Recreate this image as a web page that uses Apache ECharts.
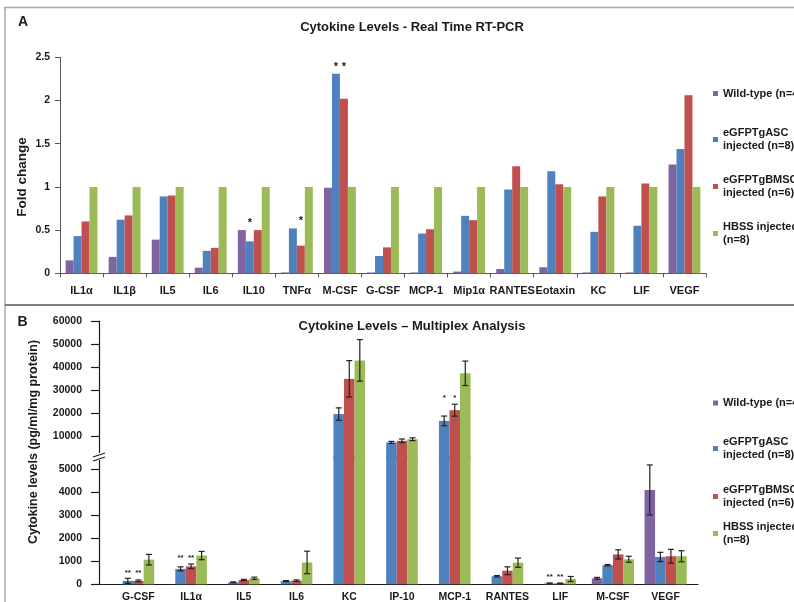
<!DOCTYPE html>
<html><head><meta charset="utf-8">
<script src="https://cdn.jsdelivr.net/npm/echarts@6/dist/echarts.min.js"></script>
<style>html,body{margin:0;padding:0;background:#fff}#c{width:794px;height:602px}</style>
</head><body><div id="c"></div>
<script>
// ---------- Panel A data (fold change, real time RT-PCR) ----------
const catA = ['IL1α','IL1β','IL5','IL6','IL10','TNFα','M-CSF','G-CSF','MCP-1','Mip1α','RANTES','Eotaxin','KC','LIF','VEGF'];
const wtA   = [0.15,0.19,0.39,0.065,0.50,0.01,0.99,0.01,0.01,0.02,0.05,0.07,0.01,0.01,1.26];
const ascA  = [0.43,0.62,0.89,0.26,0.37,0.52,2.31,0.20,0.46,0.665,0.97,1.18,0.48,0.55,1.44];
const bmscA = [0.60,0.67,0.90,0.295,0.50,0.32,2.02,0.30,0.51,0.615,1.24,1.03,0.89,1.04,2.06];
const hbssA = [1,1,1,1,1,1,1,1,1,1,1,1,1,1,1];
const sigAscA  = [0,0,0,0,1,0,1,0,0,0,0,0,0,0,0];
const sigBmscA = [0,0,0,0,0,1,1,0,0,0,0,0,0,0,0];
const ticksA = [0,0.5,1,1.5,2,2.5];

// ---------- Panel B data (pg/ml/mg protein, multiplex) ----------
const catB = ['G-CSF','IL1α','IL5','IL6','KC','IP-10','MCP-1','RANTES','LIF','M-CSF','VEGF'];
const wtB     = [null,null,null,null,null,null,null,null,null,260,4100];
const wtErrB  = [null,null,null,null,null,null,null,null,null,40,1090];
const ascB    = [150,670,85,140,19700,7400,16750,350,40,830,1190];
const ascErrB = [110,90,20,20,2700,450,2100,30,20,30,200];
const bmscB    = [150,780,185,160,35000,8100,21400,590,40,1300,1220];
const bmscErrB = [40,100,30,30,7900,800,2600,170,15,200,300];
const hbssB    = [1070,1250,260,950,43000,8800,37400,940,230,1090,1220];
const hbssErrB = [230,180,50,490,9000,600,5300,200,110,130,240];
const sigAscB  = ['**','**',null,null,null,null,'*',null,'**',null,null];
const sigBmscB = ['**','**',null,null,null,null,'*',null,'**',null,null];
const ticksUpperB = [10000,20000,30000,40000,50000,60000];
const ticksLowerB = [0,1000,2000,3000,4000,5000];

const NAMES = ['Wild-type (n=4)','eGFPTgASC\ninjected (n=8)','eGFPTgBMSC\ninjected (n=6)','HBSS injected\n(n=8)'];
const COLORS = ['#8064A2','#4F81BD','#C0504D','#9BBB59'];
const FONT = '"Liberation Sans", Arial, sans-serif';
const TXT = '#1a1a1a';

const valsA = [wtA, ascA, bmscA, hbssA];
const sigA = [null, sigAscA, sigBmscA, null];
const valsB = [wtB, ascB, bmscB, hbssB];
const errsB = [wtErrB, ascErrB, bmscErrB, hbssErrB];
const sigB = [null, sigAscB, sigBmscB, null];
const LOWER_MAX = 5578;

const chart = echarts.init(document.getElementById('c'), null, {renderer: 'canvas'});

// ----- legends (one component per item so each line can be placed) -----
function legendItem(k, firstLineY) {
  const two = NAMES[k].indexOf('\n') >= 0;
  return {
    data: [NAMES[k]], orient: 'vertical', left: 713,
    top: firstLineY - (two ? 20.25 : 6.75),
    padding: 0, itemWidth: 5, itemHeight: 5, itemGap: 0, icon: 'rect',
    selectedMode: false,
    textStyle: {fontFamily: FONT, fontSize: 11, fontWeight: 'bold', color: TXT,
      lineHeight: 13.5, padding: two ? [13.5, 0, 0, 0] : 0}
  };
}
const legendYA = [93.5, 139.5, 186.5, 233.5];
const legendYB = [403, 448.5, 496.5, 533.5];

// ----- panel B renderers -----
function renderB(k, part) {
  return function (params, api) {
    const i = api.value(0);
    const v = valsB[k][i];
    if (v == null) return;
    if (part === 'upper' && v <= LOWER_MAX) return;
    const present = [0,1,2,3].filter(s => valsB[s][i] != null);
    const n = present.length, pos = present.indexOf(k);
    const band = api.size([1, 0])[0];
    const bw = band * 0.2;
    const x = api.coord([i, 0])[0] - n * bw / 2 + pos * bw;
    const xc = x + bw / 2;
    const cs = params.coordSys;
    const top = cs.y, bot = cs.y + cs.height;
    const clampY = y => Math.min(bot, Math.max(top, y));
    const yv = clampY(api.coord([i, v])[1]);
    const children = [{type: 'rect', shape: {x: x, y: yv, width: bw, height: bot - yv},
      style: {fill: COLORS[k]}}];
    const inThis = part === 'lower' ? v <= LOWER_MAX : v > LOWER_MAX;
    if (inThis) {
      const e = errsB[k][i] || 0;
      if (e > 0) {
        const yh = clampY(api.coord([i, v + e])[1]);
        const yl = clampY(api.coord([i, Math.max(0, v - e)])[1]);
        const es = {stroke: '#222', lineWidth: 1.2};
        children.push({type: 'line', shape: {x1: xc, y1: yh, x2: xc, y2: yl}, style: es});
        children.push({type: 'line', shape: {x1: xc - 3, y1: yh, x2: xc + 3, y2: yh}, style: es});
        children.push({type: 'line', shape: {x1: xc - 3, y1: yl, x2: xc + 3, y2: yl}, style: es});
      }
      if (sigB[k] && sigB[k][i]) {
        let m = 0;
        [0,1,2,3].forEach(s => {
          if (sigB[s] && sigB[s][i] && valsB[s][i] != null) m = Math.max(m, valsB[s][i] + (errsB[s][i] || 0));
        });
        const ys = api.coord([i, m])[1] - 6;
        children.push({type: 'text', x: xc, y: ys, style: {text: sigB[k][i],
          font: 'bold 8px ' + FONT, fill: '#222', align: 'center', verticalAlign: 'middle'}});
      }
    }
    return {type: 'group', children: children};
  };
}

const series = [];
// panel A bars
valsA.forEach((arr, k) => {
  series.push({
    name: NAMES[k], type: 'bar', xAxisIndex: 0, yAxisIndex: 0,
    data: arr, barGap: '0%', barCategoryGap: '26%',
    itemStyle: {color: COLORS[k]}, emphasis: {disabled: true}
  });
});
// panel A significance markers
const sigDataA = [];
[1, 2].forEach(k => sigA[k].forEach((f, i) => {
  if (f) sigDataA.push([i, Math.max(wtA[i], ascA[i], bmscA[i]), k]);
}));
series.push({
  name: 'sigA', type: 'custom', xAxisIndex: 0, yAxisIndex: 0,
  data: sigDataA, encode: {x: 0, y: 1}, silent: true,
  renderItem: function (params, api) {
    const i = api.value(0), top = api.value(1), k = api.value(2);
    const band = api.size([1, 0])[0];
    const bw = band * 0.74 / 4;
    const cx = api.coord([i, 0])[0] + (k - 1.5) * bw;
    const y = api.coord([i, top])[1] - 7;
    return {type: 'text', x: cx, y: y, style: {text: '*', font: 'bold 11px ' + FONT,
      fill: '#222', align: 'center', verticalAlign: 'middle'}};
  }
});
// panel B bars (upper & lower segment)
[['upper', 1], ['lower', 2]].forEach(([part, gi]) => {
  valsB.forEach((arr, k) => {
    series.push({
      name: NAMES[k], type: 'custom', xAxisIndex: gi, yAxisIndex: gi,
      itemStyle: {color: COLORS[k]}, silent: true,
      data: catB.map((c, i) => [i, arr[i] == null ? 0 : arr[i]]),
      encode: {x: 0, y: 1}, renderItem: renderB(k, part)
    });
  });
});

const axisLabelA = {fontFamily: FONT, fontSize: 10.5, fontWeight: 'bold', color: TXT};
const plain = v => String(v);

const option = {
  animation: false,
  backgroundColor: '#fff',
  legend: [
    legendItem(0, legendYA[0]), legendItem(1, legendYA[1]), legendItem(2, legendYA[2]), legendItem(3, legendYA[3]),
    legendItem(0, legendYB[0]), legendItem(1, legendYB[1]), legendItem(2, legendYB[2]), legendItem(3, legendYB[3])
  ],
  grid: [
    {left: 60, top: 57.3, width: 646, height: 216, outerBoundsMode: 'none'},
    {left: 112, top: 321.2, width: 580, height: 138.3, outerBoundsMode: 'none'},
    {left: 112, top: 456, width: 580, height: 128.3, outerBoundsMode: 'none'},
    {left: 99, top: 583.3, width: 599, height: 1, outerBoundsMode: 'none'}
  ],
  xAxis: [
    {type: 'category', gridIndex: 0, data: catA,
     axisLine: {lineStyle: {color: '#555', width: 1}},
     axisTick: {show: true, length: 4, lineStyle: {color: '#555'}},
     axisLabel: Object.assign({}, axisLabelA, {interval: 0, margin: 12, fontSize: 11}),
     splitLine: {show: false}},
    {type: 'category', gridIndex: 1, data: catB, show: false},
    {type: 'category', gridIndex: 2, data: catB,
     axisLine: {show: false}, axisTick: {show: false},
     axisLabel: Object.assign({interval: 0, margin: 7}, axisLabelA),
     splitLine: {show: false}},
    {type: 'category', gridIndex: 3, data: catB,
     axisLine: {show: true, lineStyle: {color: '#1a1a1a', width: 1.2}},
     axisTick: {show: false}, axisLabel: {show: false}, splitLine: {show: false}}
  ],
  yAxis: [
    {type: 'value', gridIndex: 0, min: 0, max: 2.5, interval: 0.5,
     axisLine: {show: true, lineStyle: {color: '#555', width: 1}},
     axisTick: {show: true, length: 5, lineStyle: {color: '#555'}, customValues: ticksA},
     axisLabel: Object.assign({margin: 10, customValues: ticksA, formatter: plain}, axisLabelA),
     splitLine: {show: false}},
    {type: 'value', gridIndex: 1, min: 0, max: 60000, interval: 10000, offset: 13,
     axisLine: {show: true, lineStyle: {color: '#1a1a1a', width: 1.2}},
     axisTick: {show: true, length: 8, lineStyle: {color: '#1a1a1a', width: 1.2}, customValues: ticksUpperB},
     axisLabel: Object.assign({margin: 17, customValues: ticksUpperB, formatter: plain}, axisLabelA),
     splitLine: {show: false}},
    {type: 'value', gridIndex: 2, min: 0, max: LOWER_MAX, offset: 13,
     axisLine: {show: true, lineStyle: {color: '#1a1a1a', width: 1.2}},
     axisTick: {show: true, length: 8, lineStyle: {color: '#1a1a1a', width: 1.2}, customValues: ticksLowerB},
     axisLabel: Object.assign({margin: 17, customValues: ticksLowerB, formatter: plain}, axisLabelA),
     splitLine: {show: false}},
    {type: 'value', gridIndex: 3, show: false}
  ],
  graphic: [
    // panel frames
    {type: 'line', shape: {x1: 4, y1: 7.5, x2: 794, y2: 7.5}, style: {stroke: '#a8a8a8', lineWidth: 1.5}},
    {type: 'line', shape: {x1: 5, y1: 7.5, x2: 5, y2: 602}, style: {stroke: '#a8a8a8', lineWidth: 1.5}},
    {type: 'line', shape: {x1: 5, y1: 305, x2: 794, y2: 305}, style: {stroke: '#808080', lineWidth: 2}},
    // panel letters and titles
    {type: 'text', x: 23, y: 22, style: {text: 'A', font: 'bold 14px ' + FONT, fill: TXT, align: 'center', verticalAlign: 'middle'}},
    {type: 'text', x: 22.5, y: 322, style: {text: 'B', font: 'bold 14px ' + FONT, fill: TXT, align: 'center', verticalAlign: 'middle'}},
    {type: 'text', x: 412, y: 27, style: {text: 'Cytokine Levels - Real Time RT-PCR', font: 'bold 13px ' + FONT, fill: TXT, align: 'center', verticalAlign: 'middle'}},
    {type: 'text', x: 412, y: 326, style: {text: 'Cytokine Levels \u2013 Multiplex Analysis', font: 'bold 13px ' + FONT, fill: TXT, align: 'center', verticalAlign: 'middle'}},
    // axis names
    {type: 'text', x: 22, y: 177, rotation: Math.PI / 2, style: {text: 'Fold change', font: 'bold 13.5px ' + FONT, fill: TXT, align: 'center', verticalAlign: 'middle'}},
    {type: 'text', x: 34, y: 442, rotation: Math.PI / 2, style: {text: 'Cytokine levels (pg/ml/mg protein)', font: 'bold 12.5px ' + FONT, fill: TXT, align: 'center', verticalAlign: 'middle'}},
    // axis break symbol
    {type: 'rect', z: 100, shape: {x: 93, y: 453, width: 12, height: 7}, style: {fill: '#fff'}},
    {type: 'line', z: 101, shape: {x1: 93, y1: 457, x2: 105, y2: 453}, style: {stroke: '#1a1a1a', lineWidth: 1.2}},
    {type: 'line', z: 101, shape: {x1: 93, y1: 461, x2: 105, y2: 457}, style: {stroke: '#1a1a1a', lineWidth: 1.2}}
  ],
  series: series
};
chart.setOption(option);
</script>
</body></html>
